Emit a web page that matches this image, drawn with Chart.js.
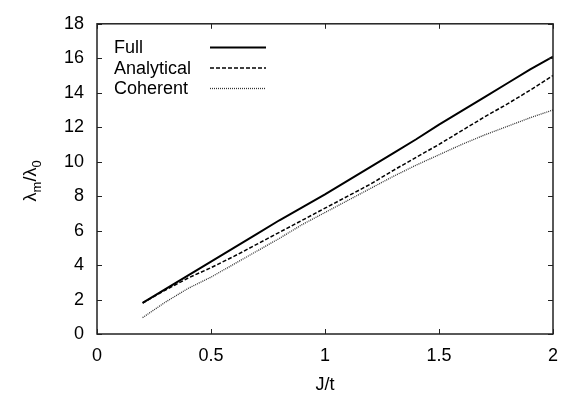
<!DOCTYPE html>
<html>
<head>
<meta charset="utf-8">
<script src="https://cdn.jsdelivr.net/npm/chart.js@4.4.1/dist/chart.umd.min.js"></script>
<style>
html, body { margin: 0; padding: 0; background: #fff; }
#wrap { width: 577px; height: 403px; }
</style>
</head>
<body>
<div id="wrap"><canvas id="c" width="577" height="403"></canvas></div>
<script>
// values
var jt = [0.2, 0.3, 0.4, 0.5, 0.6, 0.7, 0.8, 0.9, 1.0, 1.1, 1.2, 1.3, 1.4, 1.5, 1.6, 1.7, 1.8, 1.9, 2.0];
var fullVals = [1.8, 2.6, 3.4, 4.2, 5.0, 5.8, 6.6, 7.35, 8.1, 8.9, 9.7, 10.5, 11.3, 12.15, 12.95, 13.75, 14.55, 15.35, 16.1];
var analyticalVals = [1.8, 2.55, 3.25, 3.85, 4.5, 5.2, 5.9, 6.6, 7.3, 8.0, 8.7, 9.5, 10.25, 11.0, 11.8, 12.6, 13.35, 14.15, 15.0];
var coherentVals = [0.95, 1.85, 2.65, 3.3, 4.05, 4.8, 5.55, 6.35, 7.05, 7.75, 8.45, 9.15, 9.8, 10.4, 11.0, 11.55, 12.05, 12.55, 13.0];
var seriesNames = ['Full', 'Analytical', 'Coherent'];
var xTicks = [0, 0.5, 1, 1.5, 2];
var yTicks = [0, 2, 4, 6, 8, 10, 12, 14, 16, 18];

var FONT = "'Liberation Sans', Arial, Helvetica, sans-serif";

function pts(ys) {
  return jt.map(function (x, i) { return { x: x, y: ys[i] }; });
}

// frame, inward ticks, legend and axis titles
var decor = {
  id: 'decor',
  afterDraw: function (chart) {
    var ctx = chart.ctx, a = chart.chartArea;
    var xs = chart.scales.x, ys = chart.scales.y;
    ctx.save();
    ctx.strokeStyle = '#222';
    ctx.lineWidth = 1.5;
    ctx.strokeRect(a.left, a.top, a.right - a.left, a.bottom - a.top);
    ctx.lineWidth = 1;
    ctx.beginPath();
    xTicks.forEach(function (v) {
      var px = Math.round(xs.getPixelForValue(v)) + 0.5;
      ctx.moveTo(px, a.bottom); ctx.lineTo(px, a.bottom - 5);
      ctx.moveTo(px, a.top); ctx.lineTo(px, a.top + 5);
    });
    yTicks.forEach(function (v) {
      var py = Math.round(ys.getPixelForValue(v)) + 0.5;
      ctx.moveTo(a.left, py); ctx.lineTo(a.left + 5, py);
      ctx.moveTo(a.right, py); ctx.lineTo(a.right - 5, py);
    });
    ctx.stroke();

    // legend
    ctx.font = '18px ' + FONT;
    ctx.fillStyle = '#000';
    ctx.textBaseline = 'middle';
    ctx.textAlign = 'left';
    chart.data.datasets.forEach(function (ds, i) {
      var y = 47.5 + i * 20.5;
      ctx.fillText(ds.label, 114, y + 1);
      ctx.save();
      ctx.strokeStyle = ds.borderColor;
      ctx.lineWidth = ds.borderWidth;
      ctx.setLineDash(ds.borderDash || []);
      ctx.beginPath();
      ctx.moveTo(210, y); ctx.lineTo(266, y);
      ctx.stroke();
      ctx.restore();
    });

    // x title
    ctx.textAlign = 'center';
    ctx.fillText('J/t', (a.left + a.right) / 2, 385);

    // y title: λm/λ0 with subscripts, rotated
    ctx.translate(30, (a.top + a.bottom) / 2 + 2);
    ctx.rotate(-Math.PI / 2);
    var big = '18px ' + FONT, small = '13px ' + FONT;
    var parts = [['\u03bb', big, 0], ['m', small, 5], ['/\u03bb', big, 0], ['0', small, 5]];
    var total = 0;
    parts.forEach(function (p) { ctx.font = p[1]; total += ctx.measureText(p[0]).width; });
    var cx = -total / 2;
    ctx.textAlign = 'left';
    ctx.textBaseline = 'alphabetic';
    parts.forEach(function (p) {
      ctx.font = p[1];
      ctx.fillText(p[0], cx, 6 + p[2]);
      cx += ctx.measureText(p[0]).width;
    });
    ctx.restore();
  }
};

new Chart(document.getElementById('c'), {
  type: 'scatter',
  data: {
    datasets: [
      { label: seriesNames[0], data: pts(fullVals), showLine: true, borderColor: '#000', borderWidth: 2, pointRadius: 0, fill: false },
      { label: seriesNames[1], data: pts(analyticalVals), showLine: true, borderColor: '#000', borderWidth: 1.5, borderDash: [4, 2], pointRadius: 0, fill: false },
      { label: seriesNames[2], data: pts(coherentVals), showLine: true, borderColor: '#333', borderWidth: 1.3, borderDash: [1, 1], pointRadius: 0, fill: false }
    ]
  },
  options: {
    responsive: false,
    animation: false,
    layout: { padding: { top: 12, right: 24, left: 0, bottom: 0 } },
    plugins: { legend: { display: false }, tooltip: { enabled: false } },
    scales: {
      x: {
        type: 'linear', min: 0, max: 2,
        afterBuildTicks: function (s) { s.ticks = xTicks.map(function (v) { return { value: v }; }); },
        grid: { display: false, drawTicks: false },
        border: { display: false },
        ticks: {
          color: '#000', font: { family: FONT, size: 18 }, padding: 11, maxRotation: 0,
          callback: function (v) { return String(v); }
        },
        afterFit: function (s) { s.height = 69; }
      },
      y: {
        type: 'linear', min: 0, max: 18,
        afterBuildTicks: function (s) { s.ticks = yTicks.map(function (v) { return { value: v }; }); },
        grid: { display: false, drawTicks: false },
        border: { display: false },
        ticks: { color: '#000', font: { family: FONT, size: 18 }, padding: 13, callback: function (v) { return String(v); } },
        afterFit: function (s) { s.width = 97; }
      }
    }
  },
  plugins: [decor]
});
</script>
</body>
</html>
